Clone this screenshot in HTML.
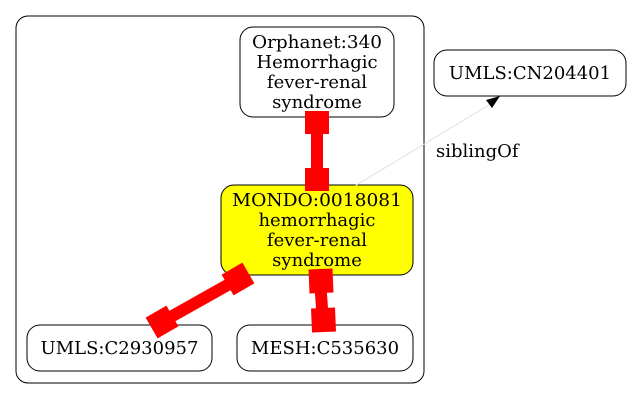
<!DOCTYPE html>
<html><head><meta charset="utf-8"><style>
html,body{margin:0;padding:0;background:#fff;}
svg{display:block;}
text{font-family:"DejaVu Serif",serif;font-size:18px;fill:#000;text-anchor:middle;}
</style></head><body>
<svg width="631" height="400" viewBox="0 0 631 400" xmlns="http://www.w3.org/2000/svg">
<rect x="16" y="16" width="408" height="367" rx="12" fill="none" stroke="#000" stroke-width="1"/>
<!-- nodes -->
<rect x="240" y="27" width="154" height="90" rx="13" fill="#fff" stroke="#000"/>
<text x="317" y="48" textLength="130" lengthAdjust="spacingAndGlyphs">Orphanet:340</text>
<text x="317" y="68">Hemorrhagic</text>
<text x="317" y="88">fever-renal</text>
<text x="317" y="108">syndrome</text>
<rect x="221" y="185" width="192" height="90" rx="13" fill="#ff0" stroke="#000"/>
<text x="317" y="206" textLength="170" lengthAdjust="spacingAndGlyphs">MONDO:0018081</text>
<text x="317" y="226">hemorrhagic</text>
<text x="317" y="246">fever-renal</text>
<text x="317" y="266">syndrome</text>
<rect x="27" y="325" width="185" height="46" rx="13" fill="#fff" stroke="#000"/>
<text x="119.5" y="354">UMLS:C2930957</text>
<rect x="237" y="325" width="176" height="46" rx="13" fill="#fff" stroke="#000"/>
<text x="325" y="354">MESH:C535630</text>
<rect x="434" y="50" width="192" height="46" rx="13" fill="#fff" stroke="#000"/>
<text x="530" y="79">UMLS:CN204401</text>
<!-- sibling edge -->
<line x1="355" y1="186" x2="492" y2="103" stroke="#e0e0e0" stroke-width="1"/>
<polygon points="500,96 486,100 492,108" fill="#000"/>
<text x="436" y="157" style="text-anchor:start">siblingOf</text>
<!-- red edges -->
<line x1="317" y1="120" x2="317" y2="182" stroke="#f00" stroke-width="12"/>
<rect x="305" y="111" width="24" height="23" fill="#f00"/>
<rect x="305" y="168" width="24" height="23" fill="#f00"/>
<line x1="320" y1="280" x2="323" y2="322" stroke="#f00" stroke-width="12"/>
<line x1="320.5" y1="269" x2="321.5" y2="293" stroke="#f00" stroke-width="24"/>
<line x1="323" y1="308" x2="324" y2="332" stroke="#f00" stroke-width="24"/>
<line x1="240" y1="278" x2="160" y2="323" stroke="#f00" stroke-width="12"/>
<line x1="248.4" y1="273" x2="227.6" y2="285" stroke="#f00" stroke-width="24"/>
<line x1="172.4" y1="316" x2="151.6" y2="328" stroke="#f00" stroke-width="24"/>
</svg>
</body></html>
